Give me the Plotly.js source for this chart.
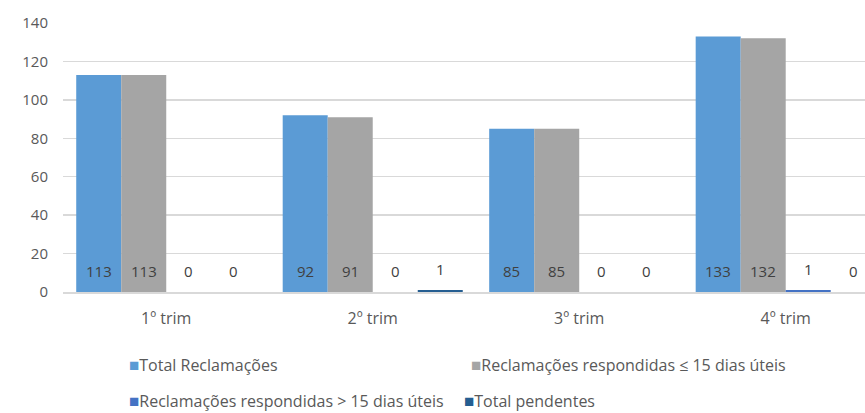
<!DOCTYPE html>
<html><head><meta charset="utf-8">
<script src="https://cdn.plot.ly/plotly-3.0.1.min.js"></script>
<style>body{margin:0;background:#fff}#c{width:865px;height:413px}</style>
</head><body><div id="c"></div>
<script>
const categories = ["1º trim", "2º trim", "3º trim", "4º trim"];
const seriesNames = ["Total Reclamações", "Reclamações respondidas ≤ 15 dias úteis", "Reclamações respondidas > 15 dias úteis", "Total pendentes"];
const totalReclamacoes = [113, 92, 85, 133];
const respondidasAte15 = [113, 91, 85, 132];
const respondidasMais15 = [0, 0, 0, 1];
const totalPendentes = [0, 1, 0, 0];
const colors = ["#5B9BD5", "#A5A5A5", "#4472C4", "#255E91"];
const yTicks = [0, 20, 40, 60, 80, 100, 120, 140];

const series = [totalReclamacoes, respondidasAte15, respondidasMais15, totalPendentes];
const FONT = "'Open Sans', sans-serif";
const bargap = 0.128;
const w = (1 - bargap) / series.length;

const traces = series.map((vals, j) => ({
  type: 'bar', x: categories, y: vals, name: seriesNames[j],
  marker: {color: colors[j]}, showlegend: false, hoverinfo: 'skip'
}));

const annotations = [];
series.forEach((vals, j) => {
  vals.forEach((v, i) => {
    annotations.push({
      xref: 'x', yref: 'y', x: i + (j - 1.5) * w, y: v === 1 ? 12 : 11,
      text: String(v), showarrow: false,
      font: {family: FONT, size: 15, color: '#404040'}
    });
  });
});

// custom legend (pixel positions converted to paper coords)
const L = 63, W = 802, T = 23, H = 269;
const legPos = [[127, 364], [469, 364], [127, 401], [462, 401]];
seriesNames.forEach((n, j) => {
  annotations.push({
    xref: 'paper', yref: 'paper',
    x: (legPos[j][0] - L) / W, y: (T + H - legPos[j][1]) / H,
    xanchor: 'left', yanchor: 'middle', showarrow: false,
    text: '<span style="color:' + colors[j] + ';font-size:17px">■</span>' + n,
    font: {family: FONT, size: 16, color: '#595959'}
  });
});

const layout = {
  width: 865, height: 413,
  margin: {l: L, r: 0, t: T, b: 413 - T - H},
  paper_bgcolor: '#fff', plot_bgcolor: '#fff',
  barmode: 'group', bargap: bargap, bargroupgap: 0,
  xaxis: {
    type: 'category', range: [-0.5, 3.384], showgrid: false,
    showline: true, linecolor: '#D9D9D9', linewidth: 1.5,
    ticks: '', ticklabelstandoff: 11,
    tickfont: {family: FONT, size: 16, color: '#595959'}, fixedrange: true
  },
  yaxis: {
    range: [0, 140], tickvals: yTicks, ticktext: yTicks.map(String),
    showgrid: true, gridcolor: '#D9D9D9', gridwidth: 1.5, zeroline: false,
    showline: false, ticks: '', ticklabelstandoff: 14,
    tickfont: {family: FONT, size: 15, color: '#595959'}, fixedrange: true
  },
  annotations: annotations,
  showlegend: false
};
Plotly.newPlot('c', traces, layout, {displayModeBar: false, staticPlot: true});
</script></body></html>
